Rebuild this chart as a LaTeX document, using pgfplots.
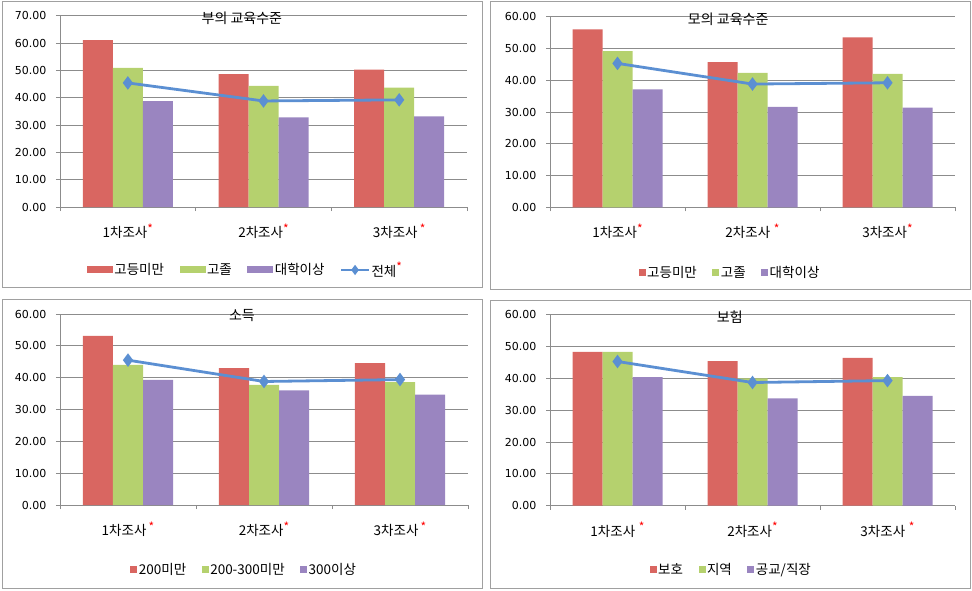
\documentclass[border=0pt]{standalone}
\usepackage{fontspec}
\setmainfont{Noto Sans CJK KR}
\newfontfamily\numfont{DejaVu Sans}
\usepackage{pgfplots}
\usepackage{pgfplotstable}
\pgfplotsset{compat=1.18}
\definecolor{cR}{RGB}{217,102,97}
\definecolor{cG}{RGB}{181,209,110}
\definecolor{cP}{RGB}{154,133,192}
\definecolor{cL}{RGB}{91,143,210}
\definecolor{grd}{RGB}{140,140,140}
\definecolor{brd}{RGB}{160,160,160}
\newcommand{\st}{\textcolor{red}{\raisebox{0.6ex}{\fontsize{12}{12}\selectfont *}}}
\pgfplotstableread{
x a b c t
0 61.1 50.9 38.7 45.4
1 48.6 44.3 32.8 38.8
2 50.3 43.7 33.2 39.2
}\tA
\pgfplotstableread{
x a b c t
0 56.0 49.2 37.1 45.3
1 45.7 42.3 31.6 38.8
2 53.5 42.0 31.4 39.2
}\tB
\pgfplotstableread{
x a b c t
0 53.1 44.0 39.3 45.5
1 43.0 37.7 36.0 38.8
2 44.6 38.6 34.7 39.4
}\tC
\pgfplotstableread{
x a b c t
0 48.3 48.3 40.4 45.3
1 45.4 40.0 33.7 38.7
2 46.4 40.4 34.5 39.3
}\tD
\pgfplotsset{
  base/.style={
    anchor=south west, scale only axis,
    xmin=-0.5, xmax=2.5, ymin=0,
    axis lines=left, axis line style={-, draw=grd, line width=0.8pt},
    ymajorgrids, grid style={draw=grd, line width=0.8pt},
    tick align=outside, major tick length=4pt,
    tick style={draw=grd, line width=0.8pt},
    ytick distance=10,
    /pgf/number format/assume math mode=true,
    yticklabel style={font=\numfont\fontsize{11}{13}\selectfont, xshift=-6pt,
      /pgf/number format/fixed, /pgf/number format/fixed zerofill,
      /pgf/number format/precision=2},
    xtick={-0.5,0.5,1.5,2.5}, xticklabels={},
    extra x ticks={0,1,2},
    extra x tick style={major tick length=0pt, grid=none},
    xticklabel style={font=\fontsize{13.5}{15}\selectfont, yshift=-13pt},
    title style={anchor=center, font=\fontsize{14}{16}\selectfont},
    legend style={draw=none, fill=none, anchor=center, font=\fontsize{13.5}{15}\selectfont,
      nodes={inner xsep=1.5pt},
      /tikz/every even column/.append style={column sep=14pt}},
  },
  wideleg/.style={legend image code/.code={\fill[##1] (0pt,-3.5pt) rectangle (26pt,3.5pt);}},
  sqleg/.style={legend image code/.code={\fill[##1] (0pt,-3pt) rectangle (7pt,4pt);}},
  lnleg/.style={legend image code/.code={\draw[mark repeat=2,mark phase=2,##1, line width=2pt, mark size=3.5pt] plot coordinates {(0pt,0pt) (14pt,0pt) (28pt,0pt)};}},
  ln/.style={sharp plot, color=cL, line width=2.8pt, mark=diamond*, mark size=4.5pt, mark options={solid, fill=cL}},
}
\begin{document}
\begin{tikzpicture}[x=1pt,y=1pt]
\useasboundingbox (0,0) rectangle (972,590);
\draw[brd, line width=1pt] (2,302) rectangle (482,588);
\draw[brd, line width=1pt] (490,300) rectangle (970,588);
\draw[brd, line width=1pt] (2,2) rectangle (482,291);
\draw[brd, line width=1pt] (490,2) rectangle (970,290);

% Panel 1
\begin{axis}[base, at={(60pt,383pt)}, width=407pt, height=191.3pt, ymax=70,
  title={부의 교육수준}, title style={at={(axis description cs:0.447,0.957)}},
  legend columns=4, legend style={at={(axis description cs:0.455,-0.329)}},
  extra x tick labels={1차조사\st, 2차조사\st, 3차조사\,\st}]
\addplot[ybar, bar width=30pt, bar shift=-30pt, fill=cR, draw=none, wideleg] table[x=x,y=a]{\tA};
\addlegendentry{고등미만}
\addplot[ybar, bar width=30pt, bar shift=0pt, fill=cG, draw=none, wideleg] table[x=x,y=b]{\tA};
\addlegendentry{고졸}
\addplot[ybar, bar width=30pt, bar shift=30pt, fill=cP, draw=none, wideleg] table[x=x,y=c]{\tA};
\addlegendentry{대학이상}
\addplot[ln, lnleg] table[x=x,y=t]{\tA};
\addlegendentry{전체\st}
\end{axis}

% Panel 2
\begin{axis}[base, at={(550pt,382.7pt)}, width=405pt, height=190.6pt, ymax=60,
  title={모의 교육수준}, title style={at={(axis description cs:0.44,0.956)}},
  legend columns=3, legend style={at={(axis description cs:0.444,-0.345)}},
  extra x tick labels={1차조사\st, 2차조사\;\st, 3차조사\st}]
\addplot[ybar, bar width=30pt, bar shift=-30pt, fill=cR, draw=none, sqleg] table[x=x,y=a]{\tB};
\addlegendentry{고등미만}
\addplot[ybar, bar width=30pt, bar shift=0pt, fill=cG, draw=none, sqleg] table[x=x,y=b]{\tB};
\addlegendentry{고졸}
\addplot[ybar, bar width=30pt, bar shift=30pt, fill=cP, draw=none, sqleg] table[x=x,y=c]{\tB};
\addlegendentry{대학이상}
\addplot[ln, forget plot] table[x=x,y=t]{\tB};
\end{axis}

% Panel 3
\begin{axis}[base, at={(60pt,85pt)}, width=408pt, height=191pt, ymax=60,
  title={소득}, title style={at={(axis description cs:0.446,0.958)}},
  legend columns=3, legend style={at={(axis description cs:0.451,-0.340)}},
  extra x tick labels={1차조사\,\st, 2차조사\st, 3차조사\,\st}]
\addplot[ybar, bar width=30pt, bar shift=-30pt, fill=cR, draw=none, sqleg] table[x=x,y=a]{\tC};
\addlegendentry{200미만}
\addplot[ybar, bar width=30pt, bar shift=0pt, fill=cG, draw=none, sqleg] table[x=x,y=b]{\tC};
\addlegendentry{200-300미만}
\addplot[ybar, bar width=30pt, bar shift=30pt, fill=cP, draw=none, sqleg] table[x=x,y=c]{\tC};
\addlegendentry{300이상}
\addplot[ln, forget plot] table[x=x,y=t]{\tC};
\end{axis}

% Panel 4
\begin{axis}[base, at={(550pt,84.3pt)}, width=405pt, height=191pt, ymax=60,
  title={보험}, title style={at={(axis description cs:0.444,0.956)}},
  legend columns=3, legend style={at={(axis description cs:0.447,-0.337)}},
  extra x tick labels={1차조사\;\st, 2차조사\st, 3차조사\;\st}]
\addplot[ybar, bar width=30pt, bar shift=-30pt, fill=cR, draw=none, sqleg] table[x=x,y=a]{\tD};
\addlegendentry{보호}
\addplot[ybar, bar width=30pt, bar shift=0pt, fill=cG, draw=none, sqleg] table[x=x,y=b]{\tD};
\addlegendentry{지역}
\addplot[ybar, bar width=30pt, bar shift=30pt, fill=cP, draw=none, sqleg] table[x=x,y=c]{\tD};
\addlegendentry{공교/직장}
\addplot[ln, forget plot] table[x=x,y=t]{\tD};
\end{axis}
\end{tikzpicture}
\end{document}
